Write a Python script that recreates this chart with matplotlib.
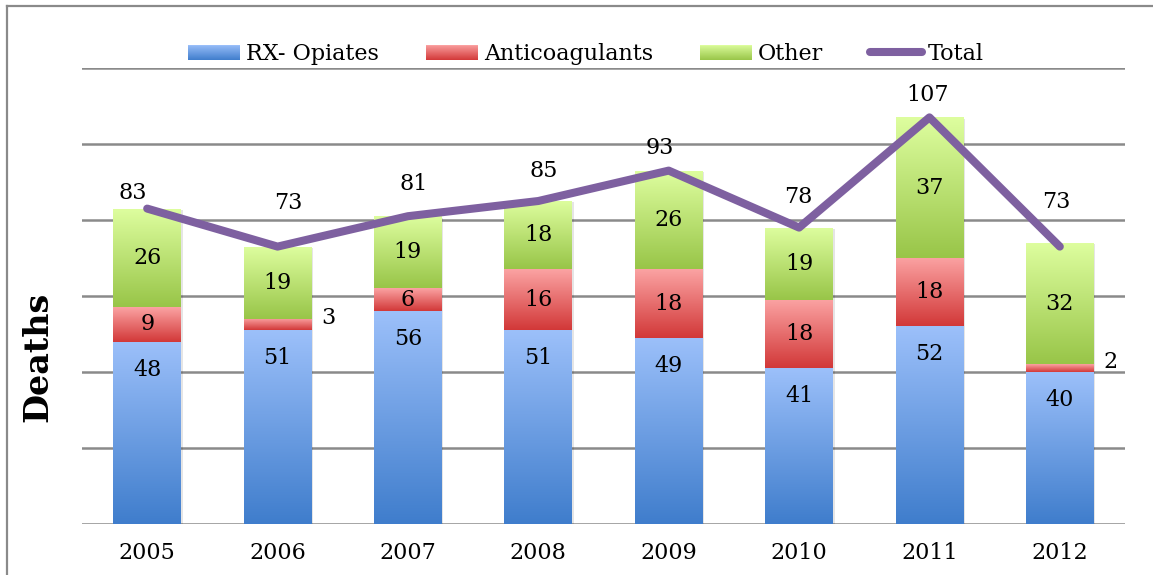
import numpy as np
import matplotlib
matplotlib.use("Agg")
import matplotlib.pyplot as plt
from matplotlib.colors import LinearSegmentedColormap, to_rgb
from matplotlib.patches import Rectangle
from matplotlib.lines import Line2D
from matplotlib.legend_handler import HandlerBase

# ---- data ----
years = ["2005", "2006", "2007", "2008", "2009", "2010", "2011", "2012"]
rx_opiates = [48, 51, 56, 51, 49, 41, 52, 40]
anticoagulants = [9, 3, 6, 16, 18, 18, 18, 2]
other = [26, 19, 19, 18, 26, 19, 37, 32]
total = [83, 73, 81, 85, 93, 78, 107, 73]
series_names = ["RX- Opiates", "Anticoagulants", "Other", "Total"]

# ---- style ----
plt.rcParams['font.family'] = ['DejaVu Serif']
FS = 16
grads = {
    "blue": ("#3f7dcc", "#9cc0fa"),   # bottom, top
    "red": ("#d23838", "#fba3a3"),
    "green": ("#98c548", "#defe9f"),
}
line_color = "#7e60a0"
grid_color = "#8a8a8a"

fig = plt.figure(figsize=(11.53, 5.75), dpi=100)
ax = fig.add_axes([82/1153, 51/575, (1125-82)/1153, (524-68)/575])

x = np.arange(len(years))
bw = 0.52
ax.set_xlim(-0.5, len(years)-0.5)
ax.set_ylim(0, 120)

for yv in range(0, 121, 20):
    ax.axhline(yv, color=grid_color, lw=1.8, zorder=0)

def grad_bars(vals, bottoms, key):
    cm = LinearSegmentedColormap.from_list(key, list(grads[key]))
    bars = ax.bar(x, vals, bw, bottom=bottoms, color='none', edgecolor='none', zorder=2)
    g = np.linspace(0, 1, 256).reshape(-1, 1)
    for p in bars.patches:
        x0, y0 = p.get_x(), p.get_y()
        w, h = p.get_width(), p.get_height()
        # subtle shadow
        ax.add_patch(Rectangle((x0 + 0.012, y0 - 0.35), w, h, facecolor='#000000',
                               alpha=0.10, edgecolor='none', zorder=1.5))
        im = ax.imshow(g, extent=[x0, x0+w, y0, y0+h], origin='lower', aspect='auto',
                       cmap=cm, zorder=2, interpolation='bilinear')
        im.set_clip_path(p)
    return bars

b0 = np.zeros(len(years))
bars_blue = grad_bars(rx_opiates, b0, "blue")
b1 = b0 + np.array(rx_opiates)
bars_red = grad_bars(anticoagulants, b1, "red")
b2 = b1 + np.array(anticoagulants)
bars_green = grad_bars(other, b2, "green")
b3 = b2 + np.array(other)
ax.set_xlim(-0.5, len(years)-0.5)
ax.set_ylim(0, 120)

ax.plot(x, total, color=line_color, lw=5.8, solid_capstyle='round',
        solid_joinstyle='round', zorder=4)

# segment labels
for i in range(len(years)):
    ax.annotate(str(rx_opiates[i]), (x[i], b1[i]), xytext=(0, -28), textcoords='offset pixels',
                ha='center', va='center', fontsize=FS, zorder=5)
    if anticoagulants[i] >= 5:
        ax.annotate(str(anticoagulants[i]), (x[i], b1[i] + anticoagulants[i]/2),
                    ha='center', va='center', fontsize=FS, zorder=5)
    else:
        ax.annotate(str(anticoagulants[i]), (x[i] + bw/2, b1[i] + anticoagulants[i]/2),
                    xytext=(17, 6), textcoords='offset pixels',
                    ha='center', va='center', fontsize=FS, zorder=5)
    ax.annotate(str(other[i]), (x[i], b2[i] + other[i]/2),
                ha='center', va='center', fontsize=FS, zorder=5)

total_offsets = [(-14, 16), (11, 44), (6, 32), (5, 30), (-9, 23), (-1, 31), (-2, 22), (-4, 45)]
for i in range(len(years)):
    ax.annotate(str(total[i]), (x[i], total[i]), xytext=total_offsets[i],
                textcoords='offset pixels', ha='center', va='center', fontsize=FS, zorder=5)

ax.set_xticks(x)
ax.set_xticklabels(years, fontsize=FS)
ax.tick_params(axis='x', length=0, pad=13)
ax.set_yticks([])
for s in ax.spines.values():
    s.set_visible(False)

fig.text(38/1153, 1 - 357/575, "Deaths", rotation=90, ha='center', va='center',
         fontsize=24, fontweight='bold')

# legend with gradient patches
class GradHandler(HandlerBase):
    def __init__(self, key):
        super().__init__()
        self.key = key
    def create_artists(self, legend, orig_handle, xdescent, ydescent, width, height, fontsize, trans):
        bot, top = (np.array(to_rgb(c)) for c in grads[self.key])
        n = 16
        arts = []
        for k in range(n):
            f = (k + 0.5) / n
            c = bot * (1 - f) + top * f
            arts.append(Rectangle((-xdescent, -ydescent + k*height/n), width, height/n*1.05,
                                  facecolor=c, edgecolor='none', transform=trans))
        return arts

h_blue = Rectangle((0, 0), 1, 1)
h_red = Rectangle((0, 0), 1, 1)
h_green = Rectangle((0, 0), 1, 1)
h_line = Line2D([], [], color=line_color, lw=5.8, solid_capstyle='round')
fig.legend([h_blue, h_red, h_green, h_line], series_names,
           handler_map={h_blue: GradHandler("blue"), h_red: GradHandler("red"),
                        h_green: GradHandler("green")},
           loc='center', bbox_to_anchor=(586/1153, 1 - 54/575), ncol=4, frameon=False,
           fontsize=FS, handlelength=2.35, handleheight=0.68, handletextpad=0.27,
           columnspacing=2.1, borderpad=0)

# outer frame
fig.add_artist(Line2D([7/1153, 7/1153], [0, 1 - 6/575], color='#8a8a8a', lw=1.6,
                      transform=fig.transFigure))
fig.add_artist(Line2D([7/1153, 1], [1 - 6/575, 1 - 6/575], color='#8a8a8a', lw=1.6,
                      transform=fig.transFigure))

fig.savefig("out.png", dpi=100)
